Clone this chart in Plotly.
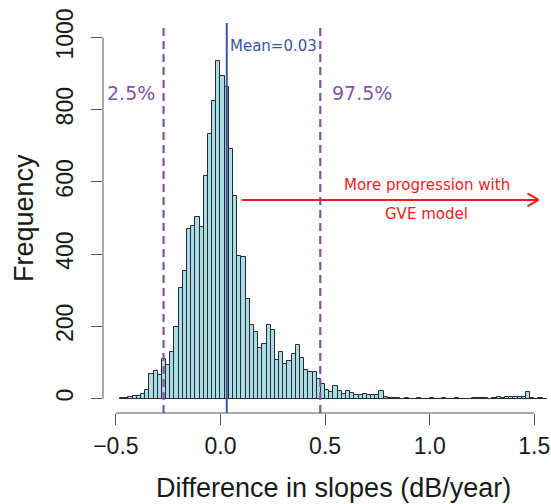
import plotly.graph_objects as go

# ---------------- data ----------------
bin_start = -0.48
bin_width = 0.02
counts = [
    1, 2, 4, 6, 8, 12, 23, 69, 75, 64,            # -0.48 .. -0.30
    109, 94, 128, 199, 307, 353, 469, 479, 502, 476,  # -0.28 .. -0.10
    617, 733, 825, 936, 892, 862, 691, 560, 395, 391,  # -0.08 .. 0.10
    277, 203, 184, 139, 152, 203, 189, 108, 128, 97,   # 0.12 .. 0.30
    105, 123, 148, 111, 80, 73, 73, 55, 40, 25,        # 0.32 .. 0.50
    19, 35, 20, 14, 20, 16, 10, 10, 12, 9,             # 0.52 .. 0.70
    10, 9, 22, 3, 2, 1, 1, 0, 1, 0,                    # 0.72 .. 0.90
    0, 1, 0, 0, 1, 0, 0, 1, 0, 0,                      # 0.92 .. 1.10
    1, 0, 0, 0, 1, 2, 2, 1, 0, 2,                      # 1.12 .. 1.30
    3, 2, 4, 4, 3, 3, 3, 18, 1, 0,                     # 1.32 .. 1.50
    1, 0,                                              # 1.52 .. 1.54
]
bin_left = [round(bin_start + bin_width * i, 2) for i in range(len(counts))]
bin_centers = [b + bin_width / 2 for b in bin_left]

mean_value = 0.03
q025 = -0.272
q975 = 0.477
arrow_x0, arrow_x1, arrow_y = 0.10, 1.52, 550

x_ticks = [-0.5, 0.0, 0.5, 1.0, 1.5]
x_ticktext = ["\u22120.5", "0.0", "0.5", "1.0", "1.5"]
y_ticks = [0, 200, 400, 600, 800, 1000]
y_ticktext = ["0", "200", "400", "600", "800", "1000"]

# ---------------- figure ----------------
W, H = 551, 504
L, R, T, B = 103, 0, 23, 91
plot_w = W - L - R
px_per_unit = 209.2
x_lo = -0.5616
x_hi = x_lo + plot_w / px_per_unit

purple = "#8552A8"
blue = "#3A55A8"
red = "#EE1D24"
axis_col = "#555555"
txt_col = "#1a1a1a"

fig = go.Figure()
fig.add_trace(go.Bar(
    x=bin_centers, y=counts, width=bin_width,
    marker=dict(color="#A8DCE7", line=dict(color="#2a2a2a", width=1)),
    showlegend=False, hoverinfo="skip",
))

shapes = []
shapes.append(dict(type="line", xref="x", yref="y", x0=bin_left[0], x1=bin_left[-1] + bin_width,
                   y0=0, y1=0, line=dict(color="#2a2a2a", width=1)))
for q in (q025, q975):
    shapes.append(dict(type="line", xref="x", yref="paper", x0=q, x1=q, y0=0, y1=1,
                       line=dict(color=purple, width=2.2, dash="8px,5px")))
shapes.append(dict(type="line", xref="x", yref="paper", x0=mean_value, x1=mean_value, y0=0, y1=1,
                   line=dict(color=blue, width=2)))
shapes.append(dict(type="line", xref="x", yref="y", x0=arrow_x0, x1=arrow_x1, y0=arrow_y, y1=arrow_y,
                   line=dict(color=red, width=2)))
head_dx = 11 / px_per_unit
head_dy = 6.5 / 0.3611
for s in (1, -1):
    shapes.append(dict(type="line", xref="x", yref="y", x0=arrow_x1 - head_dx, x1=arrow_x1,
                       y0=arrow_y + s * head_dy, y1=arrow_y, line=dict(color=red, width=2)))
shapes.append(dict(type="line", xref="x", yref="paper", x0=x_ticks[0], x1=x_ticks[-1], y0=0, y1=0,
                   line=dict(color=axis_col, width=1)))
shapes.append(dict(type="line", xref="paper", yref="y", x0=0, x1=0, y0=y_ticks[0], y1=y_ticks[-1],
                   line=dict(color=axis_col, width=1)))

annotations = [
    dict(text="2.5%", x=-0.427, y=846, xref="x", yref="y", showarrow=False,
         font=dict(family="DejaVu Sans", size=19, color=purple)),
    dict(text="97.5%", x=0.676, y=846, xref="x", yref="y", showarrow=False,
         font=dict(family="DejaVu Sans", size=19, color=purple)),
    dict(text="Mean=0.03", x=0.038, y=977, xref="x", yref="y", showarrow=False, xanchor="left",
         font=dict(family="DejaVu Sans", size=15, color=blue)),
    dict(text="More progression with", x=0.985, y=591, xref="x", yref="y", showarrow=False,
         font=dict(family="DejaVu Sans", size=15, color=red)),
    dict(text="GVE model", x=0.985, y=511, xref="x", yref="y", showarrow=False,
         font=dict(family="DejaVu Sans", size=15, color=red)),
    dict(text="Difference in slopes (dB/year)", x=(333 - L) / plot_w, y=(413 - 488) / (H - T - B),
         xref="paper", yref="paper", showarrow=False, yanchor="middle",
         font=dict(family="Liberation Sans, Arial", size=27, color=txt_col)),
    dict(text="Frequency", x=(24 - L) / plot_w, y=0.5, xref="paper", yref="paper", showarrow=False,
         textangle=-90, xanchor="center", yanchor="middle",
         font=dict(family="Liberation Sans, Arial", size=27, color=txt_col)),
]

fig.update_layout(
    width=W, height=H, margin=dict(l=L, r=R, t=T, b=B, pad=0),
    plot_bgcolor="white", paper_bgcolor="white",
    bargap=0, shapes=shapes, annotations=annotations,
    xaxis=dict(range=[x_lo, x_hi], tickvals=x_ticks, ticktext=x_ticktext,
               ticks="outside", ticklen=11, tickwidth=1, tickcolor=axis_col,
               showline=False, showgrid=False, zeroline=False,
               ticklabelstandoff=1,
               tickfont=dict(family="Liberation Sans, Arial", size=23, color=txt_col)),
    yaxis=dict(range=[-40, 1040], tickvals=y_ticks, ticktext=y_ticktext, tickangle=-90,
               ticks="outside", ticklen=11, tickwidth=1, tickcolor=axis_col,
               showline=False, showgrid=False, zeroline=False,
               ticklabelstandoff=9,
               tickfont=dict(family="Liberation Sans, Arial", size=23, color=txt_col)),
)

fig.write_html("out.html")
